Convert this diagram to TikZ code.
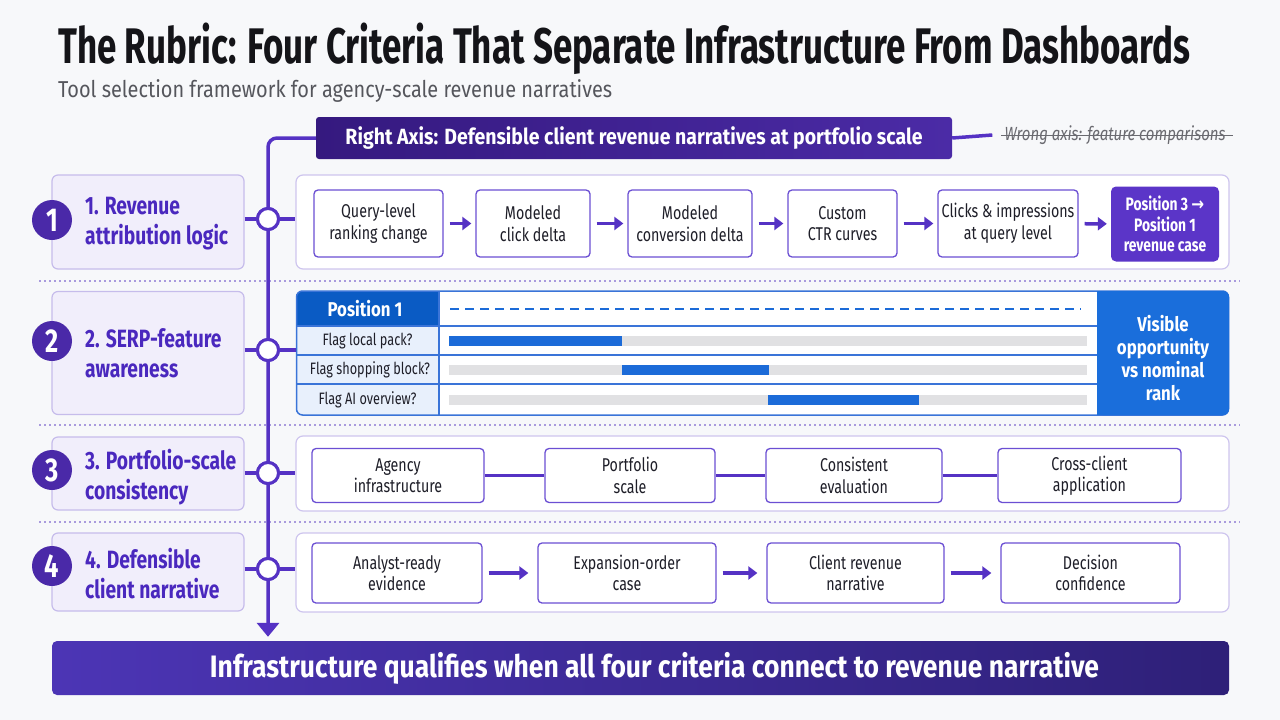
\documentclass[tikz,border=0pt]{standalone}
\usepackage{fontspec}
\usepackage{graphicx}
\setmainfont{Fira Sans}[FakeStretch=0.77]
\newfontfamily\widefont{Fira Sans}[FakeStretch=0.84]
\newfontfamily\arrowfont{DejaVu Sans}[FakeStretch=0.85]
\usetikzlibrary{arrows.meta,calc}
\definecolor{bgc}{HTML}{F7F8FA}
\definecolor{titlec}{HTML}{141418}
\definecolor{subc}{HTML}{55565C}
\definecolor{pur}{HTML}{5532C4}
\definecolor{purtext}{HTML}{4A28BE}
\definecolor{purdark}{HTML}{4A29A8}
\definecolor{hdrL}{HTML}{35197F}
\definecolor{hdrR}{HTML}{4B2BA6}
\definecolor{critfill}{HTML}{F1EEFB}
\definecolor{critdraw}{HTML}{C6BCEB}
\definecolor{rowdraw}{HTML}{CEC5EE}
\definecolor{boxdraw}{HTML}{6B4FD3}
\definecolor{boxtext}{HTML}{1E1E28}
\definecolor{posfill}{HTML}{5B35C8}
\definecolor{dotc}{HTML}{A99BDD}
\definecolor{bluedark}{HTML}{0A5BC4}
\definecolor{bluemid}{HTML}{1A6EDB}
\definecolor{bluebar}{HTML}{1C6BD8}
\definecolor{bluelight}{HTML}{E8F0FC}
\definecolor{blueline}{HTML}{3A74D8}
\definecolor{graybar}{HTML}{E1E1E3}
\definecolor{banL}{HTML}{4C35B5}
\definecolor{banR}{HTML}{2E2078}
\definecolor{wrongc}{HTML}{6A6A70}
\tikzset{
  spine/.style={draw=pur, line width=3.5pt},
  flowarrow/.style={draw=pur, line width=3.5pt, -{Triangle[length=9pt,width=13pt]}},
  hub/.style={circle, draw=pur, line width=3pt, fill=white, minimum size=21pt, inner sep=0pt},
  numc/.style={circle, fill=purdark, text=white, minimum size=40pt, inner sep=0pt, font=\bfseries\fontsize{33}{35}\selectfont},
  critbox/.style={rectangle, rounded corners=6pt, fill=critfill, draw=critdraw, line width=1.2pt, minimum width=192pt, inner sep=0pt},
  critlab/.style={anchor=west, align=left, text=purtext, inner sep=0pt, font=\bfseries\fontsize{25}{30}\selectfont},
  rowbox/.style={rectangle, rounded corners=7pt, fill=white, draw=rowdraw, line width=1.2pt, minimum width=933pt, inner sep=0pt},
  stepbox/.style={rectangle, rounded corners=4pt, fill=white, draw=boxdraw, line width=1.3pt, inner sep=0pt, align=center, text=boxtext, font=\fontsize{18.5}{21.5}\selectfont},
  posbox/.style={rectangle, rounded corners=5pt, fill=posfill, inner sep=0pt, align=center, text=white, font=\bfseries\fontsize{18}{20.5}\selectfont},
  flagtxt/.style={inner sep=0pt, text=boxtext, font=\fontsize{16.5}{18}\selectfont},
  sep/.style={draw=dotc, line width=1.3pt, dash pattern=on 2pt off 3pt},
}
\begin{document}
\begin{tikzpicture}[x=1pt, y=-1pt]
\fill[bgc] (0,0) rectangle (1280,720);
\useasboundingbox (0,0) rectangle (1280,720);

% title and subtitle
\node[anchor=base west, inner sep=0pt, text=titlec, font=\bfseries\fontsize{50}{54}\selectfont] (title) at (58,63) {\resizebox{1132pt}{\height}{The Rubric: Four Criteria That Separate Infrastructure From Dashboards}};
\node[anchor=base west, inner sep=0pt, text=subc, font=\fontsize{23}{26}\selectfont] (subtitle) at (58,97) {\resizebox{554pt}{\height}{Tool selection framework for agency-scale revenue narratives}};

% separators
\draw[sep] (39,281) -- (1240,281);
\draw[sep] (39,425) -- (1240,425);
\draw[sep] (39,522) -- (1240,522);

% header axis
\node[rectangle, rounded corners=3pt, minimum width=636pt, minimum height=42pt, inner sep=0pt, left color=hdrL, right color=hdrR, text=white, font=\bfseries\fontsize{22}{24}\selectfont] (axis) at (634,138) {\resizebox{577pt}{\height}{Right Axis: Defensible client revenue narratives at portfolio scale}};
\node[inner xsep=3pt, inner ysep=0pt, text=wrongc, font=\itshape\fontsize{19}{21}\selectfont] (wrong) at (1115,135) {\resizebox{221pt}{\height}{Wrong axis: feature comparisons}};
\draw[wrongc, line width=1pt] (wrong.west) -- ([xshift=4pt]wrong.east);
\draw[spine] (axis.east) -- ([xshift=-9pt]wrong.west);

% bottom banner
\node[rectangle, rounded corners=5pt, minimum width=1177pt, minimum height=54pt, inner sep=0pt, left color=banL, right color=banR, text=white, font=\bfseries\fontsize{31}{34}\selectfont] (banner) at (640.5,668) {\hspace*{28pt}\resizebox{889pt}{\height}{Infrastructure qualifies when all four criteria connect to revenue narrative}};

% hubs
\node[hub] (h1) at (268,219) {};
\node[hub] (h2) at (268,350) {};
\node[hub] (h3) at (268,473) {};
\node[hub] (h4) at (268,569) {};

% criteria boxes
\node[critbox, minimum height=94pt] (c1) at (148,222) {};
\node[critbox, minimum height=123pt] (c2) at (148,353) {};
\node[critbox, minimum height=73pt] (c3) at (148,473.5) {};
\node[critbox, minimum height=78pt] (c4) at (148,572) {};
\node[numc] (n1) at (52,220) {1};
\node[numc] (n2) at (52,341) {2};
\node[numc] (n3) at (52,470) {3};
\node[numc] (n4) at (52,566) {4};
\node[critlab] (l1) at (85,224) {1. Revenue\\attribution logic};
\node[critlab] (l2) at (85,353) {2. SERP-feature\\awareness};
\node[critlab] (l3) at (85,477) {3. Portfolio-scale\\consistency};
\node[critlab] (l4) at (85,574) {4. Defensible\\client narrative};

% row containers
\node[rowbox, minimum height=94pt] (r1) at (762.5,222) {};
\node[rowbox, minimum height=75pt] (r3) at (762.5,473.5) {};
\node[rowbox, minimum height=79pt] (r4) at (762.5,572.5) {};

% spine
\draw[spine, rounded corners=9pt, -{Triangle[length=14pt,width=22pt]}, shorten >=4pt] (axis.west) -| (banner.north -| h1);

% row connectors
\draw[spine] (c1.east |- h1) -- (h1) -- (h1 -| r1.west);
\draw[spine] (c3.east |- h3) -- (h3) -- (h3 -| r3.west);
\draw[spine] (c4.east |- h4) -- (h4) -- (h4 -| r4.west);

% row 1 steps
\node[stepbox, minimum width=129pt, minimum height=67pt] (b11) at (378.5,223.5) {Query-level\\ranking change};
\node[stepbox, minimum width=114pt, minimum height=67pt] (b12) at (533,223.5) {Modeled\\click delta};
\node[stepbox, minimum width=124pt, minimum height=67pt] (b13) at (690,223.5) {Modeled\\conversion delta};
\node[stepbox, minimum width=109pt, minimum height=67pt] (b14) at (842.5,223.5) {Custom\\CTR curves};
\node[stepbox, minimum width=140pt, minimum height=67pt] (b15) at (1008,223.5) {Clicks \& impressions\\at query level};
\node[posbox, minimum width=108pt, minimum height=75pt] (b16) at (1165,224) {Position 3 {\arrowfont\fontsize{18}{18}\selectfont →}\\Position 1\\revenue case};
\foreach \a/\b in {b11/b12,b12/b13,b13/b14,b14/b15,b15/b16}
  \draw[flowarrow, shorten <=6pt, shorten >=4pt] (\a) -- (\b);

% row 2 table
\begin{scope}
\clip[rounded corners=6pt] (296,291) rectangle (1229,415);
\fill[white] (296,291) rectangle (1229,415);
\fill[bluelight] (296,326) rectangle (439,415);
\fill[bluedark] (296,291) rectangle (439,326);
\end{scope}
\node[inner sep=0pt, minimum width=932pt, minimum height=124pt, rounded corners=6pt, draw=blueline, line width=1.5pt] (tbl) at (762.5,353) {};
\fill[bluemid, rounded corners=6pt] (1097,291) -- (1229,291) -- (1229,415) -- (1097,415) [sharp corners] -- cycle;
\fill[bluemid] (1097,291) rectangle (1110,415);
\node[text=white, align=center, inner sep=0pt, font=\widefont\bfseries\fontsize{20}{23}\selectfont] (vis) at (1163,358) {Visible\\opportunity\\vs nominal\\rank};
\draw[blueline, line width=1.3pt] (296,326) -- (1097,326);
\draw[blueline, line width=1.3pt] (296,355) -- (1097,355);
\draw[blueline, line width=1.3pt] (296,384) -- (1097,384);
\draw[blueline, line width=1.3pt] (439,291) -- (439,415);
\node[text=white, inner sep=0pt, font=\widefont\bfseries\fontsize{20}{22}\selectfont] (p1) at (365,309) {Position 1};
\draw[bluebar, line width=2.2pt, dash pattern=on 9pt off 6pt] (450,309) -- (1081,309);
\node[flagtxt] (f1) at (367.5,341) {Flag local pack?};
\node[flagtxt] (f2) at (370,370) {Flag shopping block?};
\node[flagtxt] (f3) at (367.5,399.5) {Flag AI overview?};
\fill[graybar] (449,336) rectangle (1087,346);
\fill[graybar] (449,365) rectangle (1087,375);
\fill[graybar] (449,394.5) rectangle (1087,404.5);
\fill[bluebar] (449,336) rectangle (622,346);
\fill[bluebar] (622,365) rectangle (769,375);
\fill[bluebar] (768,394.5) rectangle (919,404.5);
\draw[spine] (c2.east |- h2) -- (h2) -- (h2 -| tbl.west);
\node[hub] at (h2) {};
\node[hub] at (h1) {};
\node[hub] at (h3) {};
\node[hub] at (h4) {};

% row 3
\node[stepbox, minimum width=172pt, minimum height=54pt] (b31) at (398,475.5) {Agency\\infrastructure};
\node[stepbox, minimum width=170pt, minimum height=54pt] (b32) at (630,475.5) {Portfolio\\scale};
\node[stepbox, minimum width=176pt, minimum height=54pt] (b33) at (854,475.5) {Consistent\\evaluation};
\node[stepbox, minimum width=183pt, minimum height=54pt] (b34) at (1089.5,475.5) {Cross-client\\application};
\draw[spine] (b31) -- (b32);
\draw[spine] (b32) -- (b33);
\draw[spine] (b33) -- (b34);

% row 4
\node[stepbox, minimum width=170pt, minimum height=60pt] (b41) at (397,573) {Analyst-ready\\evidence};
\node[stepbox, minimum width=178pt, minimum height=60pt] (b42) at (627,573) {Expansion-order\\case};
\node[stepbox, minimum width=177pt, minimum height=60pt] (b43) at (855.5,573) {Client revenue\\narrative};
\node[stepbox, minimum width=179pt, minimum height=60pt] (b44) at (1090.5,573) {Decision\\confidence};
\foreach \a/\b in {b41/b42,b42/b43,b43/b44}
  \draw[flowarrow, shorten <=6pt, shorten >=9pt] (\a) -- (\b);
\end{tikzpicture}
\end{document}
